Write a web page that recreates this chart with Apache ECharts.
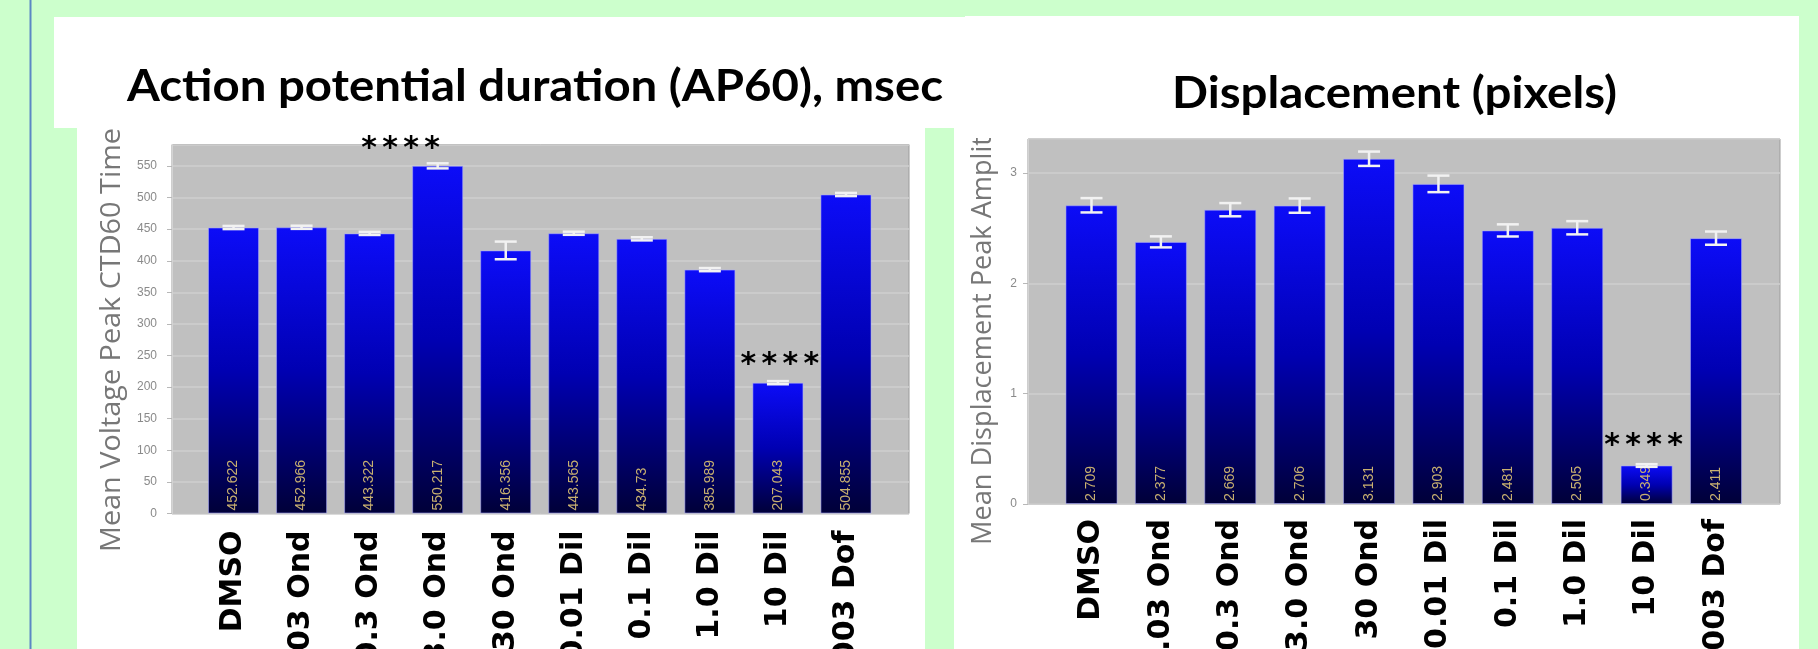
<!DOCTYPE html>
<html><head><meta charset="utf-8">
<script src="https://cdn.jsdelivr.net/npm/echarts@6/dist/echarts.min.js"></script>
<style>html,body{margin:0;padding:0;background:#CCFFCC;overflow:hidden}#c{width:1818px;height:649px}</style>
</head><body><div id="c"></div>
<script>
// ---------- data ----------
const categories = ['DMSO', '0.03 Ond', '0.3 Ond', '3.0 Ond', '30 Ond', '0.01 Dil', '0.1 Dil', '1.0 Dil', '10 Dil', '0.003 Dof'];
const apdTitle = 'Action potential duration (AP60), msec';
const apdAxisName = 'Mean Voltage Peak CTD60 Time';
const apdValues = [452.622, 452.966, 443.322, 550.217, 416.356, 443.565, 434.73, 385.989, 207.043, 504.855];
const apdErrors = [2.5, 2.5, 2.5, 4, 14, 2.5, 2.5, 2.5, 2.5, 2.5];
const apdSignificant = [3, 8];
const apdAxisMin = 0, apdAxisMax = 584, apdAxisStep = 50;

const dispTitle = 'Displacement (pixels)';
const dispAxisName = 'Mean Displacement Peak Amplitude';
const dispValues = [2.709, 2.377, 2.669, 2.706, 3.131, 2.903, 2.481, 2.505, 0.349, 2.411];
const dispErrors = [0.065, 0.05, 0.06, 0.065, 0.065, 0.075, 0.055, 0.06, 0.012, 0.06];
const dispSignificant = [8];
const dispAxisMin = 0, dispAxisMax = 3.31, dispAxisStep = 1;
const starMark = '*';
const starCount = 4;

// ---------- styling ----------
const starShift = {apd: {3: [-37, -32], 8: [2, -32]}, disp: {8: [-3, -34]}};
const measure = (font, text) => { const c = document.createElement('canvas').getContext('2d'); c.font = font; return c.measureText(text).width; };
const titleFont = 'bold 44px Lato';
const nameFont = '28px "Open Sans"';
const apdNameScale = 424 / measure(nameFont, apdAxisName);
const dispNameScale = 409 / measure(nameFont, 'Mean Displacement Peak Amplit');

const barGradient = new echarts.graphic.LinearGradient(0, 0, 0, 1, [
  {offset: 0, color: '#0c0cf8'}, {offset: 0.5, color: '#0000b2'}, {offset: 1, color: '#000038'}]);

const chart = echarts.init(document.getElementById('c'), null, {renderer: 'canvas'});

function grayGrid(left, top, width, height) {
  return {left, top, width, height, show: true, backgroundColor: '#c0c0c0', borderColor: '#9c9c9c', borderWidth: 1,
    containLabel: false, outerBoundsMode: 'none'};
}
function barGrid(left, top, width, height) {
  return {left, top, width, height, show: false, containLabel: false, outerBoundsMode: 'none'};
}
function valueAxis(gridIndex, min, max, step, visible, margin) {
  return {
    type: 'value', gridIndex, min, max, interval: step, show: visible,
    axisLine: {show: true, lineStyle: {color: '#d4d4d4'}},
    axisTick: {show: true, length: 5, lineStyle: {color: '#b8b8b8'}},
    axisLabel: {show: true, margin, color: '#8a8a8a', fontSize: 12, fontFamily: 'Liberation Sans', showMaxLabel: false},
    splitLine: {show: true, lineStyle: {color: '#cfcfcf', width: 1.5}}
  };
}
function hiddenCat(gridIndex) {
  return {type: 'category', gridIndex, data: categories, show: false};
}
function labelCat(gridIndex, margin) {
  return {
    type: 'category', gridIndex, data: categories,
    axisLine: {show: false}, axisTick: {show: false},
    axisLabel: {interval: 0, rotate: 90, margin, color: '#000', fontSize: 30, fontWeight: 'bold', fontFamily: 'DejaVu Sans', hideOverlap: false}
  };
}
function barSeries(xi, yi, values) {
  return {
    type: 'bar', xAxisIndex: xi, yAxisIndex: yi, data: values, barWidth: '75%',
    itemStyle: {color: barGradient, borderColor: 'rgba(170,170,255,0.55)', borderWidth: 1},
    label: {show: true, position: 'insideBottom', distance: 3, rotate: 90, align: 'left', verticalAlign: 'middle',
      color: '#c8b070', fontSize: 14, fontFamily: 'Liberation Sans', formatter: p => String(p.value)},
    z: 2
  };
}
function errorSeries(xi, yi, values, errors) {
  return {
    type: 'custom', xAxisIndex: xi, yAxisIndex: yi, z: 5,
    data: values.map((v, i) => [i, v, errors[i]]),
    renderItem: (params, api) => {
      const i = api.value(0), v = api.value(1), e = api.value(2);
      const hi = api.coord([i, v + e]), lo = api.coord([i, v - e]);
      const w = 11;
      const st = {stroke: '#f2f2f2', lineWidth: 2.5};
      return {type: 'group', children: [
        {type: 'line', shape: {x1: hi[0], y1: hi[1], x2: lo[0], y2: lo[1]}, style: st},
        {type: 'line', shape: {x1: hi[0] - w, y1: hi[1], x2: hi[0] + w, y2: hi[1]}, style: st},
        {type: 'line', shape: {x1: lo[0] - w, y1: lo[1], x2: lo[0] + w, y2: lo[1]}, style: st}
      ]};
    }
  };
}
function starSeries(xi, yi, idxs, values, shifts) {
  return {
    type: 'custom', xAxisIndex: xi, yAxisIndex: yi, z: 6, clip: false,
    data: idxs.map(i => [i, values[i]]),
    renderItem: (params, api) => {
      const i = api.value(0);
      const p = api.coord([i, api.value(1)]);
      const s = shifts[i] || [0, -30];
      const gap = 21;
      const children = [];
      for (let k = 0; k < starCount; k++) {
        children.push({type: 'text', x: p[0] + s[0] + (k - (starCount - 1) / 2) * gap, y: p[1] + s[1],
          style: {text: starMark, font: 'bold 30px "DejaVu Sans"', fill: '#000',
            textAlign: 'center', textVerticalAlign: 'top', align: 'center', verticalAlign: 'top'}});
      }
      return {type: 'group', children};
    }
  };
}
function txt(text, x, y, font, fill, opts) {
  return Object.assign({type: 'text', x, y, style: {text, font, fill, textAlign: 'left', textVerticalAlign: 'middle', align: 'left', verticalAlign: 'middle'}}, opts || {});
}

const option = {
  backgroundColor: '#CCFFCC',
  animation: false,
  grid: [
    grayGrid(172, 144.5, 737, 369),
    barGrid(199.5, 144.5, 680.5, 369),
    grayGrid(1028, 139, 752, 365),
    barGrid(1056.8, 139, 693.9, 365)
  ],
  xAxis: [hiddenCat(0), labelCat(1, 17), hiddenCat(2), labelCat(3, 15)],
  yAxis: [
    valueAxis(0, apdAxisMin, apdAxisMax, apdAxisStep, true, 15),
    valueAxis(1, apdAxisMin, apdAxisMax, apdAxisStep, false, 15),
    valueAxis(2, dispAxisMin, dispAxisMax, dispAxisStep, true, 11),
    valueAxis(3, dispAxisMin, dispAxisMax, dispAxisStep, false, 11)
  ],
  series: [
    barSeries(1, 1, apdValues),
    errorSeries(1, 1, apdValues, apdErrors),
    starSeries(1, 1, apdSignificant, apdValues, starShift.apd),
    barSeries(3, 3, dispValues),
    errorSeries(3, 3, dispValues, dispErrors),
    starSeries(3, 3, dispSignificant, dispValues, starShift.disp)
  ],
  graphic: [
    {type: 'rect', shape: {x: 77, y: 120, width: 848, height: 540}, style: {fill: '#fff'}, z: -10, silent: true},
    {type: 'rect', shape: {x: 954, y: 120, width: 845, height: 540}, style: {fill: '#fff'}, z: -10, silent: true},
    {type: 'line', shape: {x1: 30.5, y1: 0, x2: 30.5, y2: 649}, style: {stroke: '#5b87c4', lineWidth: 2}, z: 50, silent: true},
    txt(apdAxisName, 112, 552, nameFont, '#777777', {rotation: Math.PI / 2, scaleX: apdNameScale, z: 40}),
    txt(dispAxisName, 983, 545, nameFont, '#777777', {rotation: Math.PI / 2, scaleX: dispNameScale, z: 40}),
    {type: 'rect', shape: {x: 54, y: 17, width: 911, height: 111}, style: {fill: '#fff'}, z: 100, silent: true},
    {type: 'rect', shape: {x: 965, y: 16, width: 834, height: 122}, style: {fill: '#fff'}, z: 100, silent: true},
    txt(apdTitle, 127, 87, titleFont, '#000', {scaleX: 816 / measure(titleFont, apdTitle), z: 110}),
    txt(dispTitle, 1172, 94, titleFont, '#000', {scaleX: 445 / measure(titleFont, dispTitle), z: 110})
  ]
};
chart.setOption(option);
</script></body></html>
